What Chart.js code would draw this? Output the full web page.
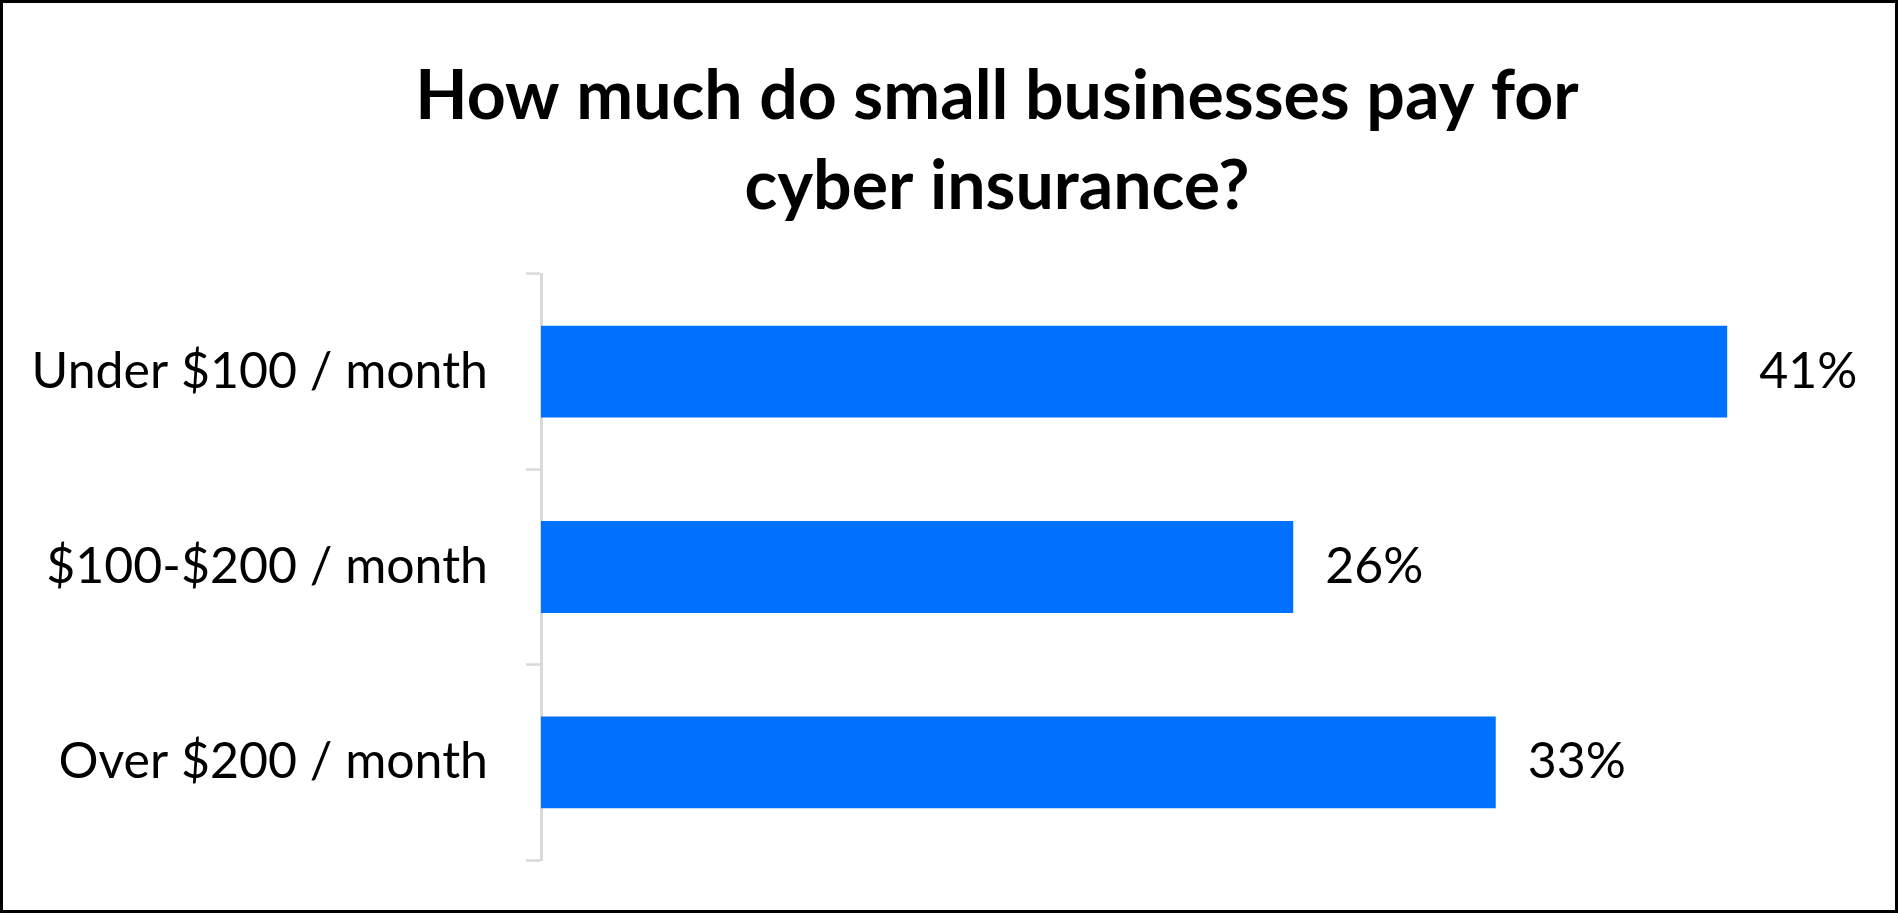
<!DOCTYPE html>
<html>
<head>
<meta charset="utf-8">
<title>Cyber insurance cost</title>
<script src="https://cdn.jsdelivr.net/npm/chart.js@4.4.1/dist/chart.umd.min.js"></script>
<style>
  html, body { margin: 0; padding: 0; background: #fff; }
  #wrap {
    width: 1898px;
    height: 913px;
    box-sizing: border-box;
    border: 3px solid #000;
    background: #fff;
  }
  #chart { display: block; }
</style>
</head>
<body>
<div id="wrap">
  <canvas id="chart" width="1892" height="907"></canvas>
</div>
<script>
  // data
  const titleLines = ["How much do small businesses pay for", "cyber insurance?"];
  const categories = ["Under $100 / month", "$100-$200 / month", "Over $200 / month"];
  const shares = [41, 26, 33];
  const axisMax = 46.8;

  const barColor = "#0070FF";
  const axisColor = "#D9D9D9";
  const labelFont = "Lato";

  // little plugin to write the percent next to each bar
  const valueLabels = {
    id: "valueLabels",
    afterDatasetsDraw(chart) {
      const ctx = chart.ctx;
      const meta = chart.getDatasetMeta(0);
      ctx.save();
      ctx.font = "50px " + labelFont;
      ctx.fillStyle = "#000";
      ctx.textAlign = "left";
      ctx.textBaseline = "middle";
      meta.data.forEach(function (bar, i) {
        ctx.fillText(shares[i] + "%", bar.x + 32, bar.y);
      });
      ctx.restore();
    }
  };

  new Chart(document.getElementById("chart").getContext("2d"), {
    type: "bar",
    data: {
      labels: categories,
      datasets: [
        {
          data: shares,
          backgroundColor: barColor,
          borderWidth: 0,
          categoryPercentage: 1,
          barPercentage: 0.47,
        },
      ],
    },
    plugins: [valueLabels],
    options: {
      indexAxis: "y",
      responsive: false,
      animation: false,
      devicePixelRatio: 1,
      // right padding is negative so the title sits a bit right of centre, like the original
      layout: {
        padding: { left: 20, right: -76, top: 0, bottom: 50 },
      },
      plugins: {
        legend: { display: false },
        tooltip: { enabled: false },
        title: {
          display: true,
          text: titleLines,
          color: "#000",
          font: { family: labelFont, size: 68, weight: "bold", lineHeight: 90 / 68 },
          padding: { top: 49, bottom: 42 },
        },
      },
      scales: {
        x: {
          display: false,
          min: 0,
          max: axisMax,
        },
        y: {
          afterFit: function (scale) {
            scale.width = 518;
            // labels are centred on the bars, no need for extra room above/below
            scale.paddingTop = 0;
            scale.paddingBottom = 0;
          },
          grid: {
            drawOnChartArea: false,
            drawTicks: true,
            tickLength: 15,
            tickWidth: 2.5,
            tickColor: axisColor,
          },
          border: { display: true, color: axisColor, width: 3 },
          ticks: {
            color: "#000",
            padding: 38,
            font: { family: labelFont, size: 50 },
          },
        },
      },
    },
  });
</script>
</body>
</html>
